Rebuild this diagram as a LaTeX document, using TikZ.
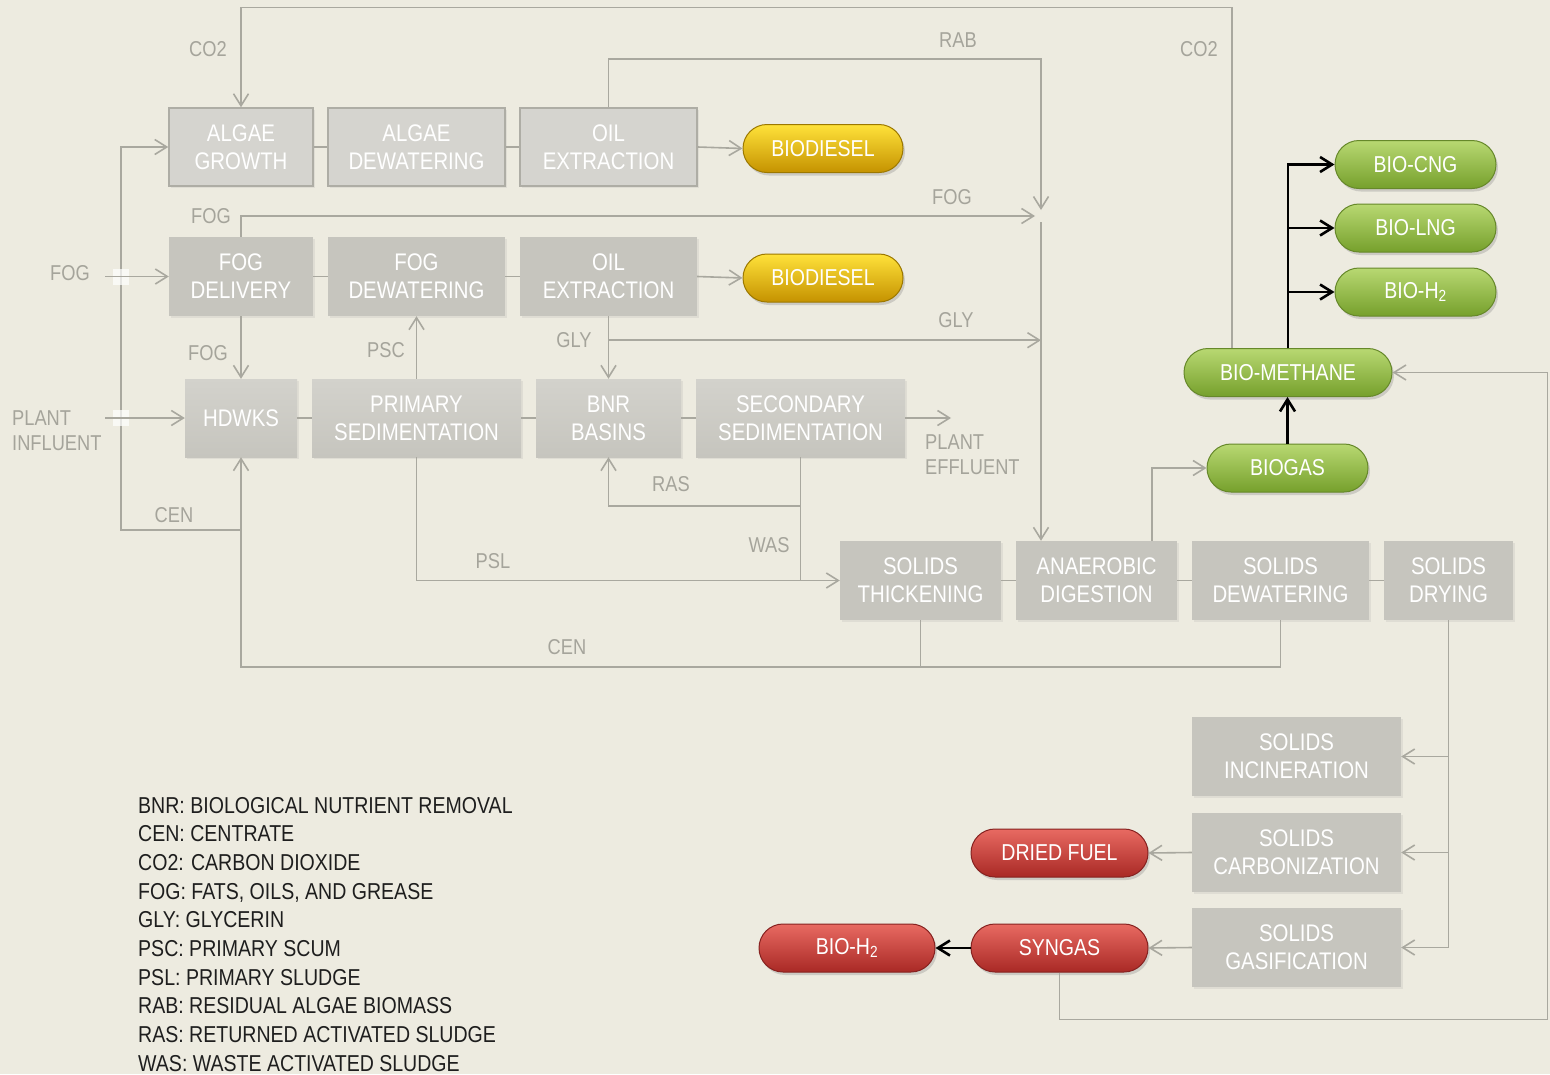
\documentclass[tikz,border=0pt]{standalone}
\usepackage{fontspec}
\setmainfont[FakeStretch=0.85]{Liberation Sans}
\usetikzlibrary{arrows.meta,shapes.misc,shadows,calc}
\definecolor{bgc}{HTML}{EDEBE0}
\definecolor{lnc}{HTML}{A9A89F}
\definecolor{labc}{HTML}{A5A49B}
\definecolor{boxc}{HTML}{C6C5BE}
\definecolor{boxtop}{HTML}{D3D2CC}
\definecolor{algc}{HTML}{D5D4CF}
\definecolor{algd}{HTML}{AEADA5}
\definecolor{o1}{HTML}{FFE23A}
\definecolor{o2}{HTML}{E8B300}
\definecolor{o3}{HTML}{C59200}
\definecolor{od}{HTML}{9C7800}
\definecolor{g1}{HTML}{B8D872}
\definecolor{g2}{HTML}{94C03F}
\definecolor{g3}{HTML}{76A02C}
\definecolor{gd}{HTML}{66882A}
\definecolor{r1}{HTML}{E86A62}
\definecolor{r2}{HTML}{D03C37}
\definecolor{r3}{HTML}{A92925}
\definecolor{rd}{HTML}{862220}
\definecolor{legc}{HTML}{1E1E1E}
\newcommand\bxfont{\fontsize{24}{28}\selectfont}
\newcommand\plfont{\fontsize{23}{28}\selectfont}
\newcommand\lbfont{\fontsize{21.5}{25}\selectfont}
\newcommand\lgfont{\fontsize{23}{28}\selectfont}
\tikzset{
  ln/.style={draw=lnc, line width=1.6pt},
  ar/.style={ln, -{Straight Barb[length=12pt,width=15pt]}},
  bk/.style={draw=black, line width=2.6pt, -{Straight Barb[length=12pt,width=15pt]}},
  boxbase/.style={rectangle, inner sep=0pt, align=center, text=white, font=\bxfont,
    drop shadow={opacity=0.12, shadow xshift=2pt, shadow yshift=-2pt}},
  abox/.style={boxbase, fill=algc, draw=algd, line width=1.5pt, minimum height=78pt},
  gbox/.style={boxbase, fill=boxc, minimum height=79pt},
  hbox/.style={boxbase, top color=boxtop, bottom color=boxc, minimum height=78pt},
  pill/.style={rounded rectangle, inner sep=0pt, minimum height=48pt, text=white, font=\plfont,
    line width=1pt, drop shadow={opacity=0.3, shadow xshift=2pt, shadow yshift=-3pt}},
  opill/.style={pill, draw=od, top color=o1, middle color=o2, bottom color=o3},
  gpill/.style={pill, draw=gd, top color=g1, middle color=g2, bottom color=g3},
  rpill/.style={pill, draw=rd, top color=r1, middle color=r2, bottom color=r3},
  lab/.style={text=labc, font=\lbfont, inner sep=0pt},
  leg/.style={text=legc, font=\lgfont, inner sep=0pt}
}
\begin{document}
\begin{tikzpicture}[x=1pt, y=-1pt]
\useasboundingbox (0,0) rectangle (1550,1074);
\fill[bgc] (0,0) rectangle (1550,1074);

% row 1
\node[abox, minimum width=144pt] (ag) at (241,147) {ALGAE\\GROWTH};
\node[abox, minimum width=177pt] (ad1) at (416.5,147) {ALGAE\\DEWATERING};
\node[abox, minimum width=177pt] (oe1) at (608.5,147) {OIL\\EXTRACTION};
\node[opill, minimum width=160pt] (bd1) at (823,148.5) {BIODIESEL};
% row 2
\node[gbox, minimum width=144pt] (fd) at (241,276.5) {FOG\\DELIVERY};
\node[gbox, minimum width=177pt] (fdw) at (416.5,276.5) {FOG\\DEWATERING};
\node[gbox, minimum width=177pt] (oe2) at (608.5,276.5) {OIL\\EXTRACTION};
\node[opill, minimum width=160pt] (bd2) at (823,278) {BIODIESEL};
% row 3
\node[hbox, minimum width=112pt] (hd) at (241,418) {HDWKS};
\node[hbox, minimum width=209pt] (ps) at (416.5,418) {PRIMARY\\SEDIMENTATION};
\node[hbox, minimum width=145pt] (bnr) at (608.5,418) {BNR\\BASINS};
\node[hbox, minimum width=209pt] (ss) at (800.5,418) {SECONDARY\\SEDIMENTATION};
% row 4
\node[gbox, minimum width=161pt] (st) at (920.5,580.5) {SOLIDS\\THICKENING};
\node[gbox, minimum width=161pt] (an) at (1096.5,580.5) {ANAEROBIC\\DIGESTION};
\node[gbox, minimum width=177pt] (sd) at (1280.5,580.5) {SOLIDS\\DEWATERING};
\node[gbox, minimum width=129pt] (sdr) at (1448.5,580.5) {SOLIDS\\DRYING};
% solids column
\node[gbox, minimum width=209pt] (si) at (1296.5,756.5) {SOLIDS\\INCINERATION};
\node[gbox, minimum width=209pt] (sc) at (1296.5,852.5) {SOLIDS\\CARBONIZATION};
\node[gbox, minimum width=209pt] (sg) at (1296.5,947.5) {SOLIDS\\GASIFICATION};
\node[rpill, minimum width=177pt] (df) at (1059.5,853) {DRIED FUEL};
\node[rpill, minimum width=177pt] (sy) at (1059.5,948) {SYNGAS};
\node[rpill, minimum width=176pt] (bh) at (847,948) {BIO-H\textsubscript{2}};
% green
\node[gpill, minimum width=161pt] (cng) at (1415.5,164.5) {BIO-CNG};
\node[gpill, minimum width=161pt] (lng) at (1415.5,228) {BIO-LNG};
\node[gpill, minimum width=161pt] (h2) at (1415.5,292) {BIO-H\textsubscript{2}};
\node[gpill, minimum width=208pt] (bm) at (1288,372.5) {BIO-METHANE};
\node[gpill, minimum width=161pt] (bg) at (1287.5,468) {BIOGAS};

% free ends
\coordinate (rabEnd) at (1041,210);
\coordinate (fogEnd) at (1035,216);
\coordinate (mixB) at (1041,222);
\coordinate (fogIn) at (105,276.5);
\coordinate (infl) at (105,418);
\coordinate (eff) at (951,418);

% row links
\draw[ln] (ag.east) -- (ad1.west) (ad1.east) -- (oe1.west);
\draw[ar] (oe1.east) -- (bd1.west);
\draw[ln] (fd.east) -- (fdw.west) (fdw.east) -- (oe2.west);
\draw[ar] (oe2.east) -- (bd2.west);
\draw[ln] (hd.east) -- (ps.west) (ps.east) -- (bnr.west) (bnr.east) -- (ss.west);
\draw[ar] (ss.east) -- (eff);
\draw[ln] (st.east) -- (an.west) (an.east) -- (sd.west) (sd.east) -- (sdr.west);

% CO2
\draw[ar] ([xshift=-56pt]bm.north) -- ++(0,-340.5) -| (ag.north);
% RAB
\draw[ar] (oe1.north) -- ++(0,-48) -| (rabEnd);
% FOG to digestion
\draw[ar] (fd.north) |- (fogEnd);
\draw[ar] (mixB) -- (mixB |- an.north);
% GLY
\draw[ar] (oe2.south) -- (bnr.north);
\draw[ar] ([yshift=-24pt]oe2.south) -- ([yshift=-24pt]oe2.south -| mixB);
% FOG to HDWKS, PSC
\draw[ar] (fd.south) -- (hd.north);
\draw[ar] (ps.north) -- (fdw.south);
% PSL, RAS, WAS
\draw[ar] (ps.south) |- (st.west);
\draw[ar] (ss.south) -- ++(0,49) -| (bnr.south);
\draw[ln] (ss.south) -- (ss.south |- st.west);
% CEN
\draw[ar] (sd.south) -- ++(0,47) -| (hd.south);
\draw[ln] (st.south) -- ++(0,47);
\draw[ar] ([yshift=-73pt]hd.south) -- ++(-120,0) |- (ag.west);
% line crossings, then inputs
\fill[white, opacity=0.7] (113,268.5) rectangle (129,284.5);
\fill[white, opacity=0.7] (113,410) rectangle (129,426);
\draw[ar] (fogIn) -- (fd.west);
\draw[ar] (infl) -- (hd.west);
% biogas
\draw[ar] ([xshift=55.5pt]an.north) |- (bg.west);
\draw[bk] (bg.north) -- (bg.north |- bm.south);
\draw[bk] (bm.north) |- (cng.west);
\draw[bk] (bm.north) |- (lng.west);
\draw[bk] (bm.north) |- (h2.west);
% solids
\draw[ar] (sdr.south) |- (si.east);
\draw[ar] (sdr.south) |- (sc.east);
\draw[ar] (sdr.south) |- (sg.east);
\draw[ar] (sc.west) -- (df.east);
\draw[ar] (sg.west) -- (sy.east);
\draw[bk] (sy.west) -- (bh.east);
\draw[ar] (sy.south) -- ++(0,47) -| ($(bm.east)+(155,0)$) -- (bm.east);

% labels
\node[lab] (l1) at (208,49) {CO2};
\node[lab] (l2) at (1199,49) {CO2};
\node[lab] (l3) at (958,40) {RAB};
\node[lab] (l4) at (211,216) {FOG};
\node[lab] (l5) at (952,197) {FOG};
\node[lab] (l6) at (70,273) {FOG};
\node[lab] (l7) at (208,353) {FOG};
\node[lab] (l8) at (386,350) {PSC};
\node[lab] (l9) at (574,340) {GLY};
\node[lab] (l10) at (956,320) {GLY};
\node[lab, align=left, anchor=west] (l11) at (12,431) {PLANT\\INFLUENT};
\node[lab, align=left, anchor=west] (l12) at (925,455) {PLANT\\EFFLUENT};
\node[lab] (l13) at (671,484) {RAS};
\node[lab] (l14) at (769,545) {WAS};
\node[lab] (l15) at (493,561) {PSL};
\node[lab] (l16) at (174,515) {CEN};
\node[lab] (l17) at (567,647) {CEN};

% legend
\foreach \t [count=\i] in {{BNR: BIOLOGICAL NUTRIENT REMOVAL},{CEN: CENTRATE},{CO2: CARBON DIOXIDE},{FOG: FATS, OILS, AND GREASE},{GLY: GLYCERIN},{PSC: PRIMARY SCUM},{PSL: PRIMARY SLUDGE},{RAB: RESIDUAL ALGAE BIOMASS},{RAS: RETURNED ACTIVATED SLUDGE},{WAS: WASTE ACTIVATED SLUDGE}}
  \node[leg, anchor=base west] (leg\i) at (138,{813+28.7*(\i-1)}) {\t};
\end{tikzpicture}
\end{document}
